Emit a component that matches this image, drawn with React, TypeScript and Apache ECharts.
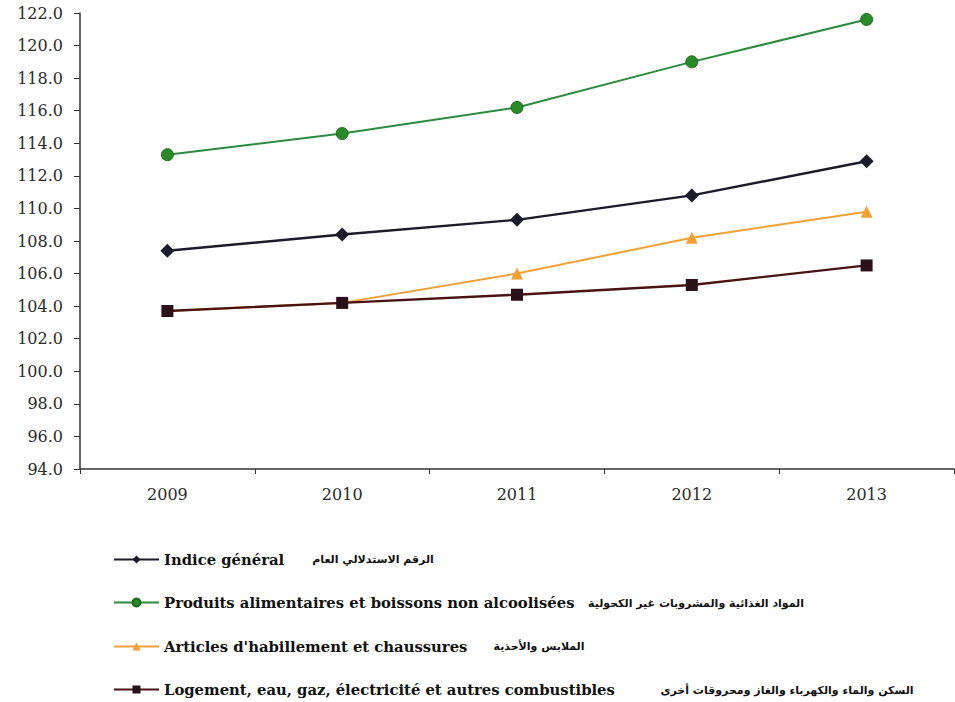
import React, { useEffect, useRef } from "react";
import * as echarts from "echarts";

const years = ["2009", "2010", "2011", "2012", "2013"];
const indiceGeneral = [107.4, 108.4, 109.3, 110.8, 112.9];
const produitsAlimentaires = [113.3, 114.6, 116.2, 119.0, 121.6];
const articlesHabillement = [103.7, 104.2, 106.0, 108.2, 109.8];
const logementEnergie = [103.7, 104.2, 104.7, 105.3, 106.5];

const seriesNames = [
  "Indice général",
  "Produits alimentaires et boissons non alcoolisées",
  "Articles d'habillement et chaussures",
  "Logement, eau, gaz, électricité et autres combustibles",
];
const arabicNames = [
  "الرقم الاستدلالي العام",
  "المواد الغذائية والمشروبات غير الكحولية",
  "الملابس والأحذية",
  "السكن والماء والكهرباء والغاز ومحروقات أخرى",
];

export default function App() {
  const ref = useRef<HTMLDivElement>(null);
  useEffect(() => {
    if (!ref.current) return;
    const chart = echarts.init(ref.current, undefined, { renderer: "svg" });
    const axisFont = { fontFamily: "DejaVu Serif", fontSize: 16, color: "#2a2a2a" };
    const arabicStyle = (text: string, align: "left" | "center") => ({
      text,
      fill: "#111",
      font: "bold 11px 'DejaVu Sans'",
      textAlign: align,
      textVerticalAlign: "middle" as const,
    });
    const legendRowTops = [552, 595, 639, 682];
    const legends = seriesNames.map((name, i) => ({
      orient: "horizontal",
      left: 113,
      top: legendRowTops[i],
      padding: 0,
      itemWidth: 45,
      itemHeight: 10,
      textStyle: { fontFamily: "DejaVu Serif", fontWeight: "bold", fontSize: 14.8, color: "#111" },
      data: [name],
    }));
    chart.setOption({
      animation: false,
      backgroundColor: "#ffffff",
      grid: { left: 80, right: 1, top: 13, bottom: 233, containLabel: false },
      xAxis: {
        type: "category",
        data: years,
        boundaryGap: true,
        axisLine: { lineStyle: { color: "#333", width: 1.5 } },
        axisTick: { show: true, length: 5, lineStyle: { color: "#333" } },
        axisLabel: { ...axisFont, margin: 17 },
      },
      yAxis: {
        type: "value",
        min: 94,
        max: 122,
        interval: 2,
        splitLine: { show: false },
        axisLine: { show: true, lineStyle: { color: "#333", width: 1.5 } },
        axisTick: { show: true, length: 6, lineStyle: { color: "#333" } },
        axisLabel: { ...axisFont, margin: 17, formatter: (v: number) => v.toFixed(1) },
      },
      legend: legends,
      series: [
        {
          name: seriesNames[0],
          type: "line",
          data: indiceGeneral,
          symbol: "diamond",
          symbolSize: 14,
          lineStyle: { color: "#1b1b2b", width: 2.4 },
          itemStyle: { color: "#1b1b2b" },
        },
        {
          name: seriesNames[1],
          type: "line",
          data: produitsAlimentaires,
          symbol: "circle",
          symbolSize: 12,
          lineStyle: { color: "#2b8a40", width: 2 },
          itemStyle: { color: "#2a8a2a", borderColor: "#1f6b1f", borderWidth: 1 },
        },
        {
          name: seriesNames[2],
          type: "line",
          data: articlesHabillement,
          symbol: "triangle",
          symbolSize: 12,
          lineStyle: { color: "#f0a035", width: 2 },
          itemStyle: { color: "#f0a035" },
        },
        {
          name: seriesNames[3],
          type: "line",
          data: logementEnergie,
          symbol: "rect",
          symbolSize: 12,
          lineStyle: { color: "#4a1212", width: 2.4 },
          itemStyle: { color: "#2a1018" },
        },
      ],
      graphic: [
        { type: "text", x: 373, y: 559, style: arabicStyle(arabicNames[0], "center") },
        { type: "text", x: 588, y: 603, style: arabicStyle(arabicNames[1], "left") },
        { type: "text", x: 539, y: 646, style: arabicStyle(arabicNames[2], "center") },
        { type: "text", x: 787, y: 690, style: arabicStyle(arabicNames[3], "center") },
      ],
    });
    return () => chart.dispose();
  }, []);
  return (
    <div
      ref={ref}
      style={{ position: "absolute", left: 0, top: 0, width: 955, height: 702, background: "#fff" }}
    />
  );
}
